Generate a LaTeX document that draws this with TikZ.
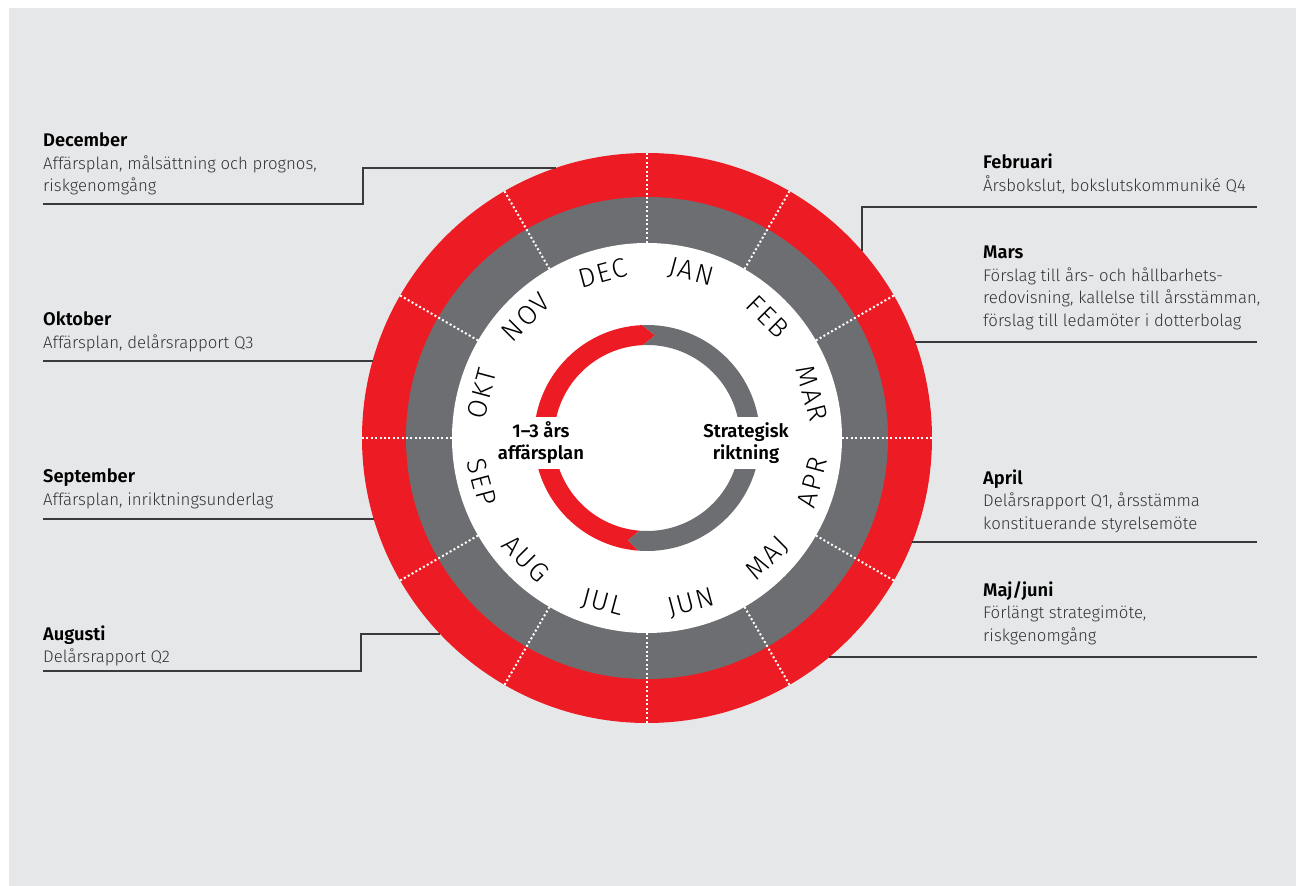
\documentclass[tikz,border=0pt]{standalone}
\usepackage{fontspec}
\setmainfont{Fira Sans}
\newfontfamily\lightfont{Fira Sans Light}
\newfontfamily\monthfont{Fira Sans Light}[LetterSpace=8]
\newfontfamily\semifont{Fira Sans SemiBold}
\definecolor{bg}{HTML}{E6E7E8}
\definecolor{wred}{HTML}{ED1C24}
\definecolor{wgray}{HTML}{6D6E71}
\definecolor{txt}{HTML}{333335}
\definecolor{leadc}{HTML}{3A3A3C}
\newcommand\blk[2]{\vtop{\baselineskip=22.5pt\halign{##\hfil\cr{\semifont\fontsize{18.3}{20}\selectfont\color{black}#1}\cr #2\crcr}}}
\begin{document}
\begin{tikzpicture}[x=1pt,y=1pt,
  lead/.style={draw=leadc, line width=1.3pt},
  dots/.style={draw=white, line width=2pt, dash pattern=on 2pt off 2.4pt},
  txtblk/.style={anchor=base west, inner sep=0pt, text=txt, font=\lightfont\fontsize{16.8}{22.5}\selectfont},
  month/.style={inner sep=0pt, text=black, font=\monthfont\fontsize{27}{27}\selectfont},
  ctext/.style={fill=white, inner xsep=2pt, inner ysep=0pt, minimum height=52pt, align=center, text=black, font=\semifont\fontsize{18.5}{22}\selectfont}]
\useasboundingbox (-647,-448) rectangle (649,438);
\fill[bg] (-638,-448) rectangle (649,430);
% outer rings
\fill[wred] (0,0) circle (285);
\fill[wgray] (0,0) circle (241);
\fill[white] (0,0) circle (195);
\foreach \a in {0,30,...,330} \draw[dots] (\a:195) -- (\a:285);
% inner arrow ring
\fill[wred] (92.5:113) arc[start angle=92.5, end angle=265.5, radius=113] -- (259.5:104) -- (265.5:93)
  arc[start angle=265.5, end angle=92.5, radius=93] -- (85.5:103) -- cycle;
\fill[wgray] (92.5:113) -- (85.5:103) -- (92.5:93) arc[start angle=92.5, end angle=-94.5, radius=93]
  -- (-100.5:104) -- (-94.5:113) arc[start angle=-94.5, end angle=92.5, radius=113] -- cycle;
\node[ctext] (plan) at (-106,-5) {1–3 års\\affärsplan};
\node[ctext] (strat) at (99,-5) {Strategisk\\riktning};
% month labels
\foreach \m [count=\i, evaluate=\i as \a using 105-30*\i] in {JAN,FEB,MAR,APR,MAJ,JUN,JUL,AUG,SEP,OKT,NOV,DEC}{
  \pgfmathsetmacro\rot{sin(\a)>0 ? \a-90 : \a+90}
  \node[month, rotate=\rot] (m\i) at (\a:171) {\m};
}
% text blocks
\node[txtblk] (dec) at (-604,291) {\blk{December}{Affärsplan, målsättning och prognos,\cr riskgenomgång}};
\node[txtblk] (okt) at (-604,112) {\blk{Oktober}{Affärsplan, delårsrapport Q3}};
\node[txtblk] (sep) at (-604,-45) {\blk{September}{Affärsplan, inriktningsunderlag}};
\node[txtblk] (aug) at (-604,-202) {\blk{Augusti}{Delårsrapport Q2}};
\node[txtblk] (feb) at (336,269) {\blk{Februari}{Årsbokslut, bokslutskommuniké Q4}};
\node[txtblk] (mar) at (336,179) {\blk{Mars}{Förslag till års- och hållbarhets-\cr redovisning, kallelse till årsstämman,\cr förslag till ledamöter i dotterbolag}};
\node[txtblk] (apr) at (336,-46) {\blk{April}{Delårsrapport Q1, årsstämma\cr konstituerande styrelsemöte}};
\node[txtblk] (maj) at (336,-158) {\blk{Maj/juni}{Förlängt strategimöte,\cr riskgenomgång}};
% leader coordinates
\coordinate (decA) at (-604,234); \coordinate (decB) at (-284,234); \coordinate (decC) at (-284,270); \coordinate (decD) at (-91.24,270);
\coordinate (oktA) at (-604,77); \coordinate (oktD) at (-274.4,77);
\coordinate (sepA) at (-604,-81); \coordinate (sepD) at (-273.25,-81);
\coordinate (augA) at (-604,-233); \coordinate (augB) at (-286,-233); \coordinate (augC) at (-286,-196); \coordinate (augD) at (-206.9,-196);
\coordinate (febA) at (610,231); \coordinate (febB) at (215,231); \coordinate (febD) at (215,187.08);
\coordinate (marA) at (610,96); \coordinate (marD) at (268.34,96);
\coordinate (aprA) at (610,-104); \coordinate (aprD) at (265.35,-104);
\coordinate (majA) at (610,-219); \coordinate (majD) at (182.38,-219);
\draw[lead] (decA) -- (decB) -- (decC) -- (decD);
\draw[lead] (oktA) -- (oktD);
\draw[lead] (sepA) -- (sepD);
\draw[lead] (augA) -- (augB) -- (augC) -- (augD);
\draw[lead] (febA) -- (febB) -- (febD);
\draw[lead] (marA) -- (marD);
\draw[lead] (aprA) -- (aprD);
\draw[lead] (majA) -- (majD);
\end{tikzpicture}
\end{document}
